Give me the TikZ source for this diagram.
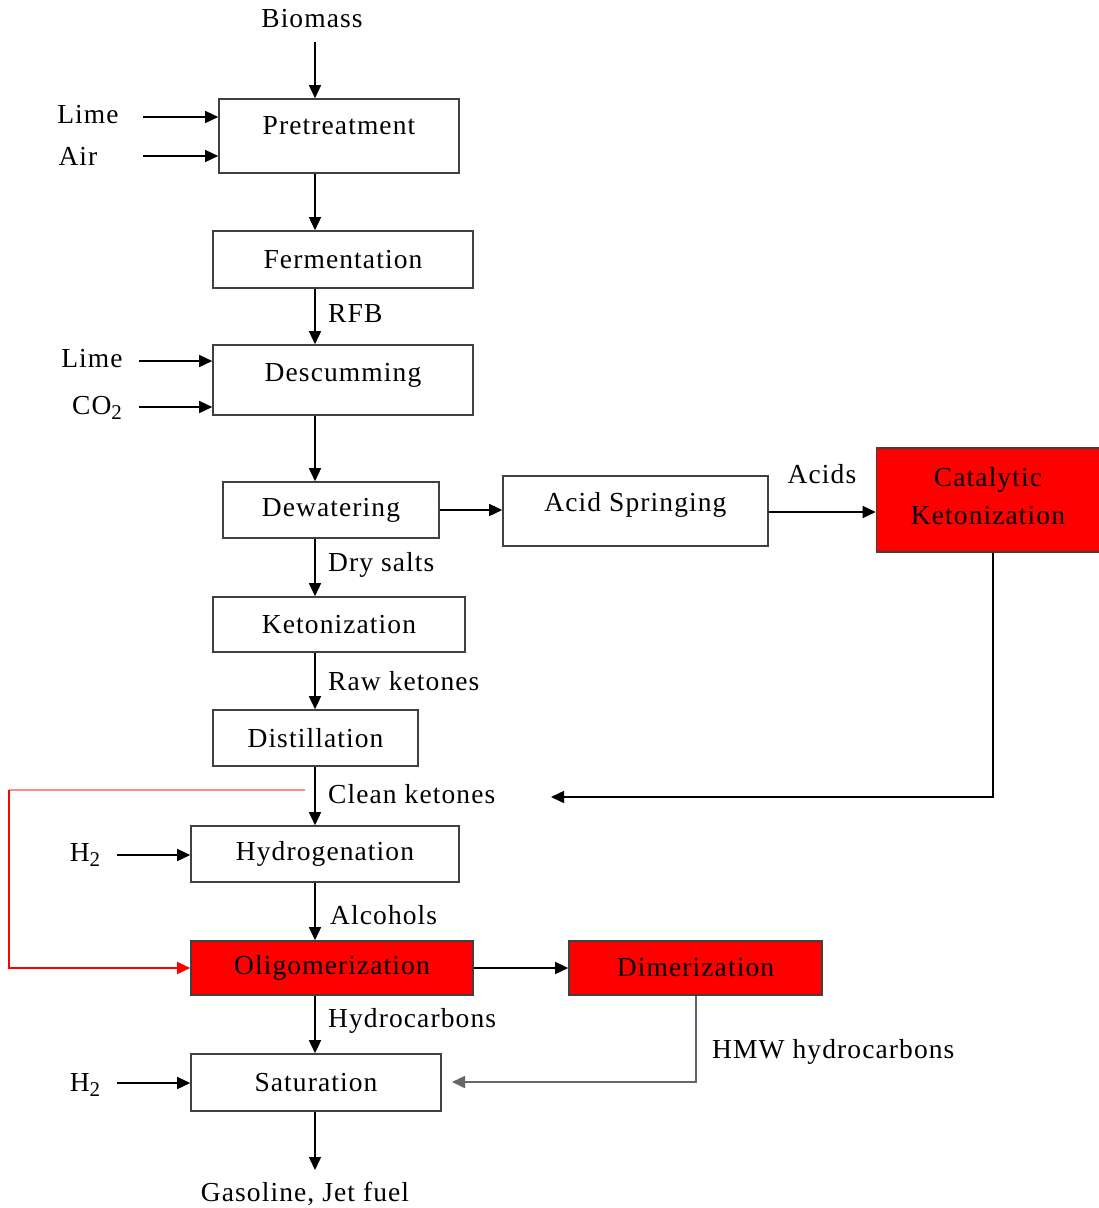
\documentclass[tikz,border=0pt]{standalone}
\usepackage{fontspec}
\setmainfont{Liberation Serif}[LetterSpace=4]
\usetikzlibrary{arrows.meta}
\newcommand\fsz{\fontsize{27.5}{38}\selectfont}
\newcommand\subtwo{\raisebox{-0.45ex}{\fontsize{21}{21}\selectfont 2}}
\begin{document}
\begin{tikzpicture}[x=1pt,y=-1pt,
  box/.style={draw=black!75, line width=1.6pt, inner sep=0pt, font=\fsz, text=black},
  redbox/.style={box, fill=red},
  txt/.style={inner sep=0pt, font=\fsz},
  arr/.style={line width=1.5pt, -{Triangle[length=13pt,width=12pt]}}]
\useasboundingbox (0,0) rectangle (1099,1208);

% boxes
\node[box, minimum width=240, minimum height=74, label={[txt,name=pretxt,yshift=10pt]center:Pretreatment}] (pre) at (339,136) {};
\node[box, minimum width=260, minimum height=57] (fer) at (343,259.5) {Fermentation};
\node[box, minimum width=260, minimum height=70, label={[txt,name=destxt,yshift=5pt]center:Descumming}] (des) at (343,380) {};
\node[box, minimum width=216, minimum height=56] (dew) at (331,510) {Dewatering};
\node[box, minimum width=265, minimum height=70, label={[txt,name=acidtxt,yshift=6pt]center:Acid Springing}] (acid) at (635.5,511) {};
\node[redbox, minimum width=223, minimum height=104, align=center, label={[txt,name=cattxt,align=center,yshift=4pt]center:Catalytic\\Ketonization}] (cat) at (988,500) {};
\node[box, minimum width=252, minimum height=55] (ket) at (339,624.5) {Ketonization};
\node[box, minimum width=205, minimum height=56] (dist) at (315.5,738) {Distillation};
\node[box, minimum width=268, minimum height=56] (hyd) at (325,854) {Hydrogenation};
\node[redbox, minimum width=282, minimum height=54] (oli) at (332,968) {Oligomerization};
\node[redbox, minimum width=253, minimum height=54] (dim) at (695.5,968) {Dimerization};
\node[box, minimum width=250, minimum height=57] (sat) at (316,1082.5) {Saturation};

% free texts
\node[txt] (bio) at (312,19) {Biomass};
\node[txt] (lime1) at (88,115) {Lime};
\node[txt] (air) at (78,156) {Air};
\node[txt] (lime2) at (92,359) {Lime};
\node[txt] (co2) at (97,408) {CO\subtwo};
\node[txt] (h2a) at (85,855) {H\subtwo};
\node[txt] (h2b) at (85,1085) {H\subtwo};
\node[txt] (gas) at (305,1194) {Gasoline, Jet fuel};

% stream labels
\node[txt, anchor=west] (rfb) at (328,314) {RFB};
\node[txt, anchor=west] (dry) at (328,565) {Dry salts};
\node[txt, anchor=west] (raw) at (328,681) {Raw ketones};
\node[txt, anchor=west] (clean) at (328,794) {Clean ketones};
\node[txt, anchor=west] (alc) at (330,915) {Alcohols};
\node[txt, anchor=west] (hc) at (328,1021) {Hydrocarbons};
\node[txt] (acids) at (822,474) {Acids};
\node[txt, anchor=west] (hmw) at (712,1052) {HMW hydrocarbons};

% free ends
\coordinate (biox) at (315,42);
\coordinate (lime1x) at (143,117);
\coordinate (airx) at (143,156);
\coordinate (lime2x) at (139,361);
\coordinate (co2x) at (139,407);
\coordinate (h2ax) at (117,855);
\coordinate (h2bx) at (117,1083);
\coordinate (gasx) at (315,1170);
\coordinate (redstart) at (305,790);
\coordinate (catret) at (551,797);
\coordinate (dimret) at (452,1082);

% main line
\draw[arr] (biox) -- (biox |- pre.north);
\draw[arr] (lime1x) -- (lime1x -| pre.west);
\draw[arr] (airx) -- (airx -| pre.west);
\draw[arr] (315,0 |- pre.south) -- (315,0 |- fer.north);
\draw[arr] (315,0 |- fer.south) -- (315,0 |- des.north);
\draw[arr] (lime2x) -- (lime2x -| des.west);
\draw[arr] (co2x) -- (co2x -| des.west);
\draw[arr] (315,0 |- des.south) -- (315,0 |- dew.north);
\draw[arr] (dew.east) -- (dew.east -| acid.west);
\draw[arr] (acid.east |- 0,512) -- (cat.west |- 0,512);
\draw[arr] (315,0 |- dew.south) -- (315,0 |- ket.north);
\draw[arr] (315,0 |- ket.south) -- (315,0 |- dist.north);
\draw[arr] (315,0 |- dist.south) -- (315,0 |- hyd.north);
\draw[arr] (h2ax) -- (h2ax -| hyd.west);
\draw[arr] (315,0 |- hyd.south) -- (315,0 |- oli.north);
\draw[arr] (oli.east) -- (dim.west);
\draw[arr] (315,0 |- oli.south) -- (315,0 |- sat.north);
\draw[arr] (h2bx) -- (h2bx -| sat.west);
\draw[arr] (315,0 |- sat.south) -- (gasx);

% returns
\draw[arr] (993,0 |- cat.south) -- (993,797) -- (catret);
\draw[arr, draw=black!60, line width=1.6pt] (696,0 |- dim.south) -- (696,1082) -- (dimret);
\draw[line width=1.4pt, draw=red!45] (redstart) -- (9,790);
\draw[arr, draw=red, line width=1.4pt] (9,790) -- (9,968) -- (oli.west);
\end{tikzpicture}
\end{document}
